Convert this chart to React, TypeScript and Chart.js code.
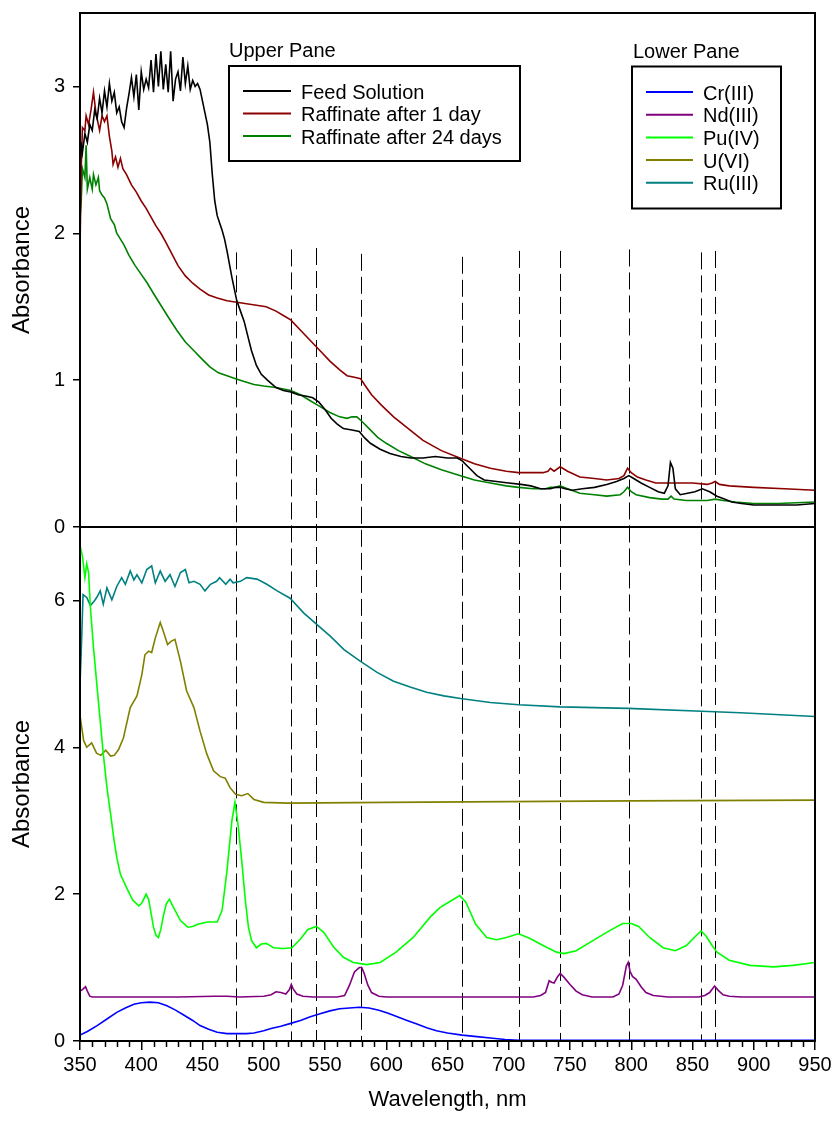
import React, { useEffect, useRef } from "react";
import { Chart, registerables } from "chart.js";
Chart.register(...registerables);

// ---------- Upper pane ----------
const feedWl = [350, 351, 352, 354, 356, 358, 360, 362, 364, 366, 368, 370, 372, 374, 376, 378, 380, 382, 384, 386, 388, 390, 392, 394, 396, 398, 400, 402, 404, 406, 408, 410, 412, 414, 416, 418, 420, 422, 424, 426, 428, 430, 432, 434, 436, 438, 440, 442, 444, 446, 448, 450, 452, 454, 456, 458, 460, 462, 464, 466, 468, 470, 472, 474, 476, 478, 481, 484, 487, 490, 494, 498, 503, 510, 516, 522, 528, 535, 540, 545, 550, 555, 560, 565, 572, 578, 582, 587, 595, 603, 612, 620, 630, 640, 650, 658, 662, 668, 674, 680, 690, 700, 710, 718, 726, 734, 738, 742, 746, 752, 760, 770, 780, 788, 794, 798, 802, 808, 815, 822, 827, 830, 832, 834, 836, 840, 846, 852, 858, 864, 870, 876, 882, 890, 900, 920, 935, 950];
const feedAbs = [2.45, 2.62, 2.55, 2.68, 2.62, 2.74, 2.70, 2.84, 2.78, 2.92, 2.82, 2.97, 2.86, 3.02, 2.90, 2.96, 2.82, 2.86, 2.76, 2.72, 2.85, 2.95, 3.06, 2.93, 3.08, 2.84, 3.10, 2.98, 3.05, 2.99, 3.18, 2.96, 3.22, 3.00, 3.24, 2.98, 3.15, 2.96, 3.24, 2.90, 3.05, 3.10, 2.97, 3.20, 3.02, 3.14, 2.98, 3.04, 3.00, 3.02, 2.98, 2.90, 2.82, 2.74, 2.62, 2.40, 2.22, 2.12, 2.07, 2.02, 1.96, 1.88, 1.79, 1.70, 1.62, 1.54, 1.47, 1.40, 1.30, 1.20, 1.10, 1.04, 1.00, 0.95, 0.93, 0.92, 0.90, 0.89, 0.88, 0.85, 0.80, 0.74, 0.70, 0.67, 0.66, 0.65, 0.61, 0.57, 0.53, 0.50, 0.48, 0.47, 0.47, 0.48, 0.47, 0.47, 0.45, 0.40, 0.35, 0.32, 0.31, 0.30, 0.29, 0.28, 0.26, 0.26, 0.27, 0.27, 0.26, 0.25, 0.26, 0.27, 0.29, 0.31, 0.33, 0.35, 0.33, 0.30, 0.27, 0.24, 0.23, 0.28, 0.44, 0.40, 0.26, 0.22, 0.23, 0.24, 0.26, 0.24, 0.21, 0.19, 0.17, 0.16, 0.15, 0.15, 0.15, 0.16];

const raf1Wl = [350, 351, 352, 354, 355, 357, 359, 361, 363, 365, 366, 368, 370, 372, 374, 376, 377, 379, 381, 383, 385, 388, 392, 396, 400, 404, 408, 412, 416, 420, 425, 430, 436, 442, 448, 455, 462, 470, 478, 486, 494, 502, 510, 516, 522, 530, 538, 546, 554, 562, 568, 574, 579, 583, 588, 596, 606, 618, 630, 645, 660, 672, 685, 698, 708, 720, 728, 732, 734, 737, 742, 748, 758, 770, 780, 790, 794, 797, 800, 805, 812, 820, 835, 850, 862, 866, 868.5, 872, 880, 900, 925, 950];
const raf1Abs = [1.88, 2.45, 2.72, 2.70, 2.80, 2.74, 2.84, 2.96, 2.82, 2.74, 2.70, 2.80, 2.76, 2.80, 2.66, 2.56, 2.47, 2.52, 2.45, 2.51, 2.44, 2.40, 2.33, 2.28, 2.22, 2.17, 2.11, 2.05, 2.00, 1.94, 1.86, 1.78, 1.71, 1.66, 1.62, 1.58, 1.56, 1.54, 1.53, 1.52, 1.51, 1.50, 1.47, 1.44, 1.41, 1.34, 1.27, 1.20, 1.13, 1.07, 1.03, 1.02, 1.01, 0.96, 0.90, 0.83, 0.75, 0.67, 0.59, 0.52, 0.47, 0.43, 0.40, 0.38, 0.37, 0.37, 0.37, 0.38, 0.40, 0.38, 0.41, 0.38, 0.34, 0.33, 0.32, 0.33, 0.35, 0.40, 0.37, 0.34, 0.32, 0.30, 0.30, 0.30, 0.29, 0.30, 0.31, 0.29, 0.28, 0.27, 0.26, 0.25];

const raf24Wl = [350, 351, 352, 354, 355, 356, 358, 360, 361, 363, 365, 366, 368, 370, 372, 375, 378, 380, 383, 386, 390, 395, 400, 405, 410, 416, 422, 429, 436, 443, 450, 456, 463, 470, 477, 484, 492, 500, 510, 522, 530, 538, 546, 554, 562, 568, 572, 576, 580, 586, 593, 600, 610, 620, 632, 645, 660, 672, 685, 698, 708, 720, 730, 734, 738, 742, 748, 758, 770, 780, 791, 794, 797, 800, 804, 815, 825, 830, 832.5, 835, 845, 856, 862, 868.5, 875, 885, 900, 920, 950];
const raf24Abs = [2.10, 2.22, 2.44, 2.38, 2.60, 2.30, 2.38, 2.30, 2.40, 2.33, 2.38, 2.29, 2.26, 2.24, 2.20, 2.10, 2.06, 2.00, 1.96, 1.92, 1.85, 1.78, 1.72, 1.66, 1.59, 1.51, 1.43, 1.34, 1.26, 1.20, 1.14, 1.09, 1.05, 1.03, 1.01, 0.99, 0.97, 0.96, 0.95, 0.93, 0.90, 0.86, 0.82, 0.78, 0.75, 0.74, 0.75, 0.75, 0.72, 0.67, 0.61, 0.57, 0.52, 0.48, 0.43, 0.39, 0.35, 0.32, 0.30, 0.28, 0.27, 0.26, 0.26, 0.27, 0.27, 0.28, 0.26, 0.23, 0.22, 0.21, 0.22, 0.24, 0.27, 0.24, 0.22, 0.20, 0.19, 0.19, 0.21, 0.19, 0.18, 0.18, 0.18, 0.19, 0.18, 0.17, 0.16, 0.16, 0.17];

// ---------- Lower pane ----------
const crWl = [350, 356, 364, 372, 380, 387, 394, 400, 407, 414, 421, 428, 435, 442, 448, 455, 462, 470, 478, 486, 492, 500, 506, 514, 522, 530, 538, 546, 554, 562, 570, 578, 586, 594, 601, 609, 617, 625, 633, 641, 650, 662, 674, 685, 697, 708, 720, 800, 950];
const crAbs = [0.08, 0.13, 0.21, 0.30, 0.39, 0.45, 0.50, 0.52, 0.53, 0.52, 0.48, 0.42, 0.35, 0.28, 0.21, 0.16, 0.12, 0.10, 0.10, 0.10, 0.11, 0.14, 0.17, 0.20, 0.24, 0.28, 0.33, 0.37, 0.41, 0.44, 0.45, 0.46, 0.45, 0.42, 0.38, 0.33, 0.28, 0.23, 0.18, 0.14, 0.11, 0.08, 0.06, 0.04, 0.02, 0.01, 0.01, 0.01, 0.01];

const ndWl = [350, 352, 354.5, 356, 358, 360, 400, 430, 460, 470, 480, 500, 506, 510, 514, 518, 521, 522.5, 524, 527, 532, 540, 560, 566, 570, 574, 578, 580, 582, 585, 588, 594, 600, 650, 700, 720, 726, 730, 733, 735, 737, 740, 742, 745, 750, 755, 760, 768, 785, 790, 793, 796, 797.5, 799, 801, 804, 808, 812, 818, 830, 855, 860, 864, 868, 871, 875, 880, 890, 950];
const ndAbs = [0.68, 0.70, 0.74, 0.68, 0.61, 0.60, 0.60, 0.60, 0.61, 0.61, 0.60, 0.61, 0.63, 0.67, 0.66, 0.64, 0.70, 0.77, 0.71, 0.64, 0.61, 0.60, 0.60, 0.62, 0.76, 0.94, 1.00, 1.00, 0.92, 0.76, 0.66, 0.61, 0.60, 0.60, 0.60, 0.60, 0.62, 0.66, 0.82, 0.80, 0.79, 0.88, 0.92, 0.87, 0.77, 0.68, 0.63, 0.60, 0.60, 0.64, 0.76, 1.02, 1.07, 0.95, 0.88, 0.84, 0.74, 0.66, 0.62, 0.60, 0.60, 0.62, 0.66, 0.75, 0.69, 0.63, 0.61, 0.60, 0.60];

const puWl = [350, 352, 354, 355.5, 357, 358.5, 361, 364, 366.5, 369, 372, 375, 377.5, 380, 383, 388, 393, 398, 400.5, 404, 406, 408, 410, 412, 414, 416, 418, 420.5, 423, 426, 432, 438, 442, 446, 454, 462, 466, 470, 474, 476.5, 479, 482, 485, 487.5, 490, 494, 498, 502, 508, 516, 523, 530, 536, 543, 549, 557, 565, 573, 584, 595, 608, 622, 636, 644, 652, 660, 665, 673, 682, 690, 698, 708, 717, 728, 739, 745, 755, 769, 782, 793, 800, 806, 815, 826, 836, 845, 852, 857, 861, 866, 870, 880, 897, 916, 932, 950];
const puAbs = [6.75, 6.60, 6.31, 6.50, 6.38, 5.90, 5.36, 4.81, 4.36, 3.91, 3.45, 3.09, 2.77, 2.50, 2.27, 2.09, 1.92, 1.84, 1.88, 2.00, 1.93, 1.74, 1.55, 1.44, 1.41, 1.52, 1.70, 1.87, 1.93, 1.83, 1.64, 1.55, 1.56, 1.59, 1.62, 1.62, 1.78, 2.32, 3.00, 3.25, 2.95, 2.46, 1.91, 1.55, 1.37, 1.27, 1.32, 1.33, 1.27, 1.26, 1.27, 1.39, 1.52, 1.56, 1.48, 1.28, 1.14, 1.07, 1.04, 1.07, 1.21, 1.41, 1.69, 1.82, 1.90, 1.98, 1.89, 1.59, 1.41, 1.38, 1.41, 1.46, 1.40, 1.30, 1.21, 1.19, 1.23, 1.37, 1.50, 1.60, 1.60, 1.56, 1.41, 1.27, 1.23, 1.30, 1.42, 1.50, 1.43, 1.30, 1.21, 1.10, 1.03, 1.01, 1.03, 1.07];

const uWl = [350, 353, 355.5, 359.5, 363.5, 367, 371, 375, 378, 381.5, 385.5, 391, 396.5, 400.5, 403, 406, 408.5, 411.5, 415.5, 418, 421.5, 424, 427.5, 432, 437, 443, 448, 453.5, 459, 464.5, 468.5, 472.5, 477, 482, 487, 492, 500, 520, 600, 700, 800, 950];
const uAbs = [4.43, 4.09, 4.00, 4.06, 3.92, 3.89, 3.96, 3.88, 3.89, 3.97, 4.13, 4.54, 4.70, 4.99, 5.26, 5.31, 5.29, 5.49, 5.70, 5.58, 5.40, 5.44, 5.47, 5.17, 4.77, 4.54, 4.22, 3.91, 3.68, 3.60, 3.58, 3.45, 3.36, 3.34, 3.37, 3.29, 3.25, 3.24, 3.25, 3.26, 3.27, 3.28];

const ruWl = [350, 351, 352.5, 355.5, 358.5, 362, 364, 366.5, 369, 372, 376, 380, 384, 387, 391, 394, 396.5, 400.5, 404.5, 408.5, 411.5, 415.5, 419.5, 423.5, 427.5, 432, 436, 439, 443, 448, 452, 456.5, 461.5, 464, 469, 472.5, 475, 481, 486, 494.5, 502.5, 511, 521.5, 532.5, 543.5, 554.5, 565.5, 579, 592.5, 606, 619.5, 633, 647, 662, 685, 708, 742, 797.5, 857.5, 889, 950];
const ruAbs = [4.86, 5.30, 6.08, 6.04, 5.93, 6.00, 6.05, 6.13, 5.95, 6.17, 6.01, 6.19, 6.31, 6.22, 6.40, 6.28, 6.35, 6.24, 6.42, 6.47, 6.24, 6.40, 6.26, 6.35, 6.19, 6.38, 6.42, 6.24, 6.26, 6.22, 6.13, 6.22, 6.26, 6.31, 6.22, 6.29, 6.24, 6.26, 6.31, 6.29, 6.22, 6.13, 6.03, 5.83, 5.67, 5.51, 5.33, 5.17, 5.02, 4.90, 4.82, 4.75, 4.70, 4.66, 4.61, 4.58, 4.55, 4.53, 4.49, 4.47, 4.42];

// ---------- Reference lines & ticks ----------
const dashWl = [477, 522.5, 543, 579.5, 661.5, 708, 742, 798, 857, 868.5];
const dashTop = [1.87, 1.89, 1.90, 1.86, 1.84, 1.88, 1.88, 1.89, 1.87, 1.88];
const xMajorTicks = [350, 400, 450, 500, 550, 600, 650, 700, 750, 800, 850, 900, 950];
const xMinorTicks = [360, 370, 380, 390, 410, 420, 430, 440, 460, 470, 480, 490, 510, 520, 530, 540, 560, 570, 580, 590, 610, 620, 630, 640, 660, 670, 680, 690, 710, 720, 730, 740, 760, 770, 780, 790, 810, 820, 830, 840, 860, 870, 880, 890, 910, 920, 930, 940];
const upperTicks = [0, 1, 2, 3];
const lowerTicks = [0, 2, 4, 6];

const upperNames = ["Feed Solution", "Raffinate after 1 day", "Raffinate after 24 days"];
const upperColors = ["#000000", "#8b0000", "#008000"];
const lowerNames = ["Cr(III)", "Nd(III)", "Pu(IV)", "U(VI)", "Ru(III)"];
const lowerColors = ["#0000ff", "#800080", "#00ff00", "#808000", "#008080"];

const FONT = "'Liberation Sans', Arial, sans-serif";

function pts(wl: number[], a: number[]) {
  return wl.map((w, i) => ({ x: w, y: a[i] }));
}

const panesPlugin = {
  id: "panes",
  beforeDatasetsDraw(chart: any) {
    const { ctx, chartArea, scales } = chart;
    const x = scales.x;
    const yU = scales.yU;
    ctx.save();
    ctx.strokeStyle = "#000";
    ctx.lineWidth = 1;
    ctx.setLineDash([17, 6]);
    dashWl.forEach((w, i) => {
      const px = Math.round(x.getPixelForValue(w)) + 0.5;
      ctx.beginPath();
      ctx.moveTo(px, yU.getPixelForValue(dashTop[i]));
      ctx.lineTo(px, chartArea.bottom);
      ctx.stroke();
    });
    ctx.restore();
  },
  afterDraw(chart: any) {
    const { ctx, chartArea, scales } = chart;
    const { left, right, top, bottom } = chartArea;
    const x = scales.x;
    const yU = scales.yU;
    ctx.save();
    ctx.strokeStyle = "#000";
    ctx.lineWidth = 2;
    ctx.setLineDash([]);
    ctx.strokeRect(left, top, right - left, bottom - top);
    const mid = yU.getPixelForValue(0);
    ctx.beginPath();
    ctx.moveTo(left, mid);
    ctx.lineTo(right, mid);
    ctx.stroke();
    // minor x ticks
    ctx.lineWidth = 1.5;
    xMinorTicks.forEach((w) => {
      const px = Math.round(x.getPixelForValue(w)) + 0.5;
      ctx.beginPath();
      ctx.moveTo(px, bottom);
      ctx.lineTo(px, bottom + 6);
      ctx.stroke();
    });
    // legends
    ctx.fillStyle = "#000";
    ctx.font = `20px ${FONT}`;
    ctx.textBaseline = "alphabetic";
    ctx.textAlign = "left";
    ctx.fillText("Upper Pane", 229, 57);
    ctx.lineWidth = 2;
    ctx.strokeRect(229, 66, 291, 95);
    upperNames.forEach((n, i) => {
      const yy = 91 + i * 22.5;
      ctx.strokeStyle = upperColors[i];
      ctx.lineWidth = 2;
      ctx.beginPath();
      ctx.moveTo(243, yy);
      ctx.lineTo(291, yy);
      ctx.stroke();
      ctx.fillText(n, 301, yy + 7.5);
    });
    ctx.strokeStyle = "#000";
    ctx.fillText("Lower Pane", 633, 58);
    ctx.strokeRect(632, 66.5, 149, 142);
    lowerNames.forEach((n, i) => {
      const yy = 92 + i * 22.7;
      ctx.strokeStyle = lowerColors[i];
      ctx.lineWidth = 2;
      ctx.beginPath();
      ctx.moveTo(646, yy);
      ctx.lineTo(693, yy);
      ctx.stroke();
      ctx.fillText(n, 703, yy + 7.5);
    });
    ctx.restore();
  },
};

export default function App() {
  const ref = useRef<HTMLCanvasElement | null>(null);
  useEffect(() => {
    if (!ref.current) return;
    const mk = (label: string, wl: number[], a: number[], color: string, yAxisID: string) => ({
      type: "line" as const,
      label,
      data: pts(wl, a),
      borderColor: color,
      backgroundColor: color,
      borderWidth: 1.6,
      pointRadius: 0,
      tension: 0,
      yAxisID,
    });
    const datasets = [
      mk(upperNames[0], feedWl, feedAbs, upperColors[0], "yU"),
      mk(upperNames[1], raf1Wl, raf1Abs, upperColors[1], "yU"),
      mk(upperNames[2], raf24Wl, raf24Abs, upperColors[2], "yU"),
      mk(lowerNames[0], crWl, crAbs, lowerColors[0], "yL"),
      mk(lowerNames[1], ndWl, ndAbs, lowerColors[1], "yL"),
      mk(lowerNames[2], puWl, puAbs, lowerColors[2], "yL"),
      mk(lowerNames[3], uWl, uAbs, lowerColors[3], "yL"),
      mk(lowerNames[4], ruWl, ruAbs, lowerColors[4], "yL"),
    ];
    const tickFont = { family: FONT, size: 20 };
    const yCommon = {
      type: "linear" as const,
      position: "left" as const,
      stack: "panes",
      stackWeight: 1,
      offset: false,
      afterFit: (s: any) => {
        s.width = 80;
        s.paddingTop = 0;
        s.paddingBottom = 0;
      },
      ticks: { font: tickFont, color: "#000", padding: 8 },
      grid: { drawOnChartArea: false, drawTicks: true, tickLength: 7, color: "#000", lineWidth: 1.5 },
      border: { display: false },
      title: { display: true, text: "Absorbance", color: "#000", font: { family: FONT, size: 24 }, padding: { top: 8, bottom: 0 } },
    };
    const chart = new Chart(ref.current, {
      type: "line",
      data: { datasets },
      plugins: [panesPlugin],
      options: {
        responsive: false,
        animation: false,
        devicePixelRatio: 1,
        layout: { padding: { top: 13, right: 21, left: 0, bottom: 0 } },
        plugins: { legend: { display: false }, tooltip: { enabled: false } },
        scales: {
          x: {
            type: "linear",
            min: 350,
            max: 950,
            afterBuildTicks: (s: any) => {
              s.ticks = xMajorTicks.map((v) => ({ value: v }));
            },
            afterFit: (s: any) => {
              s.height = 89;
              s.paddingLeft = 0;
              s.paddingRight = 0;
            },
            ticks: { font: tickFont, color: "#000", padding: 3, maxRotation: 0, autoSkip: false },
            grid: { drawOnChartArea: false, drawTicks: true, tickLength: 9, color: "#000", lineWidth: 1.5 },
            border: { display: false },
            title: { display: true, text: "Wavelength, nm", color: "#000", font: { family: FONT, size: 22 }, padding: { top: 0, bottom: 17 } },
          },
          yL: {
            ...yCommon,
            min: 0,
            max: 7,
            afterBuildTicks: (s: any) => {
              s.ticks = lowerTicks.map((v) => ({ value: v }));
            },
          },
          yU: {
            ...yCommon,
            min: 0,
            max: 3.5,
            afterBuildTicks: (s: any) => {
              s.ticks = upperTicks.map((v) => ({ value: v }));
            },
          },
        },
      } as any,
    });
    return () => chart.destroy();
  }, []);
  return (
    <div style={{ position: "absolute", left: 0, top: 0, width: 836, height: 1130, background: "#fff" }}>
      <canvas ref={ref} width={836} height={1130} style={{ display: "block" }} />
    </div>
  );
}
